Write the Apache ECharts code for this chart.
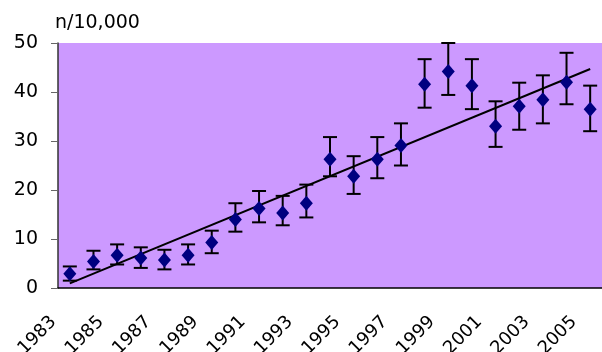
<!DOCTYPE html>
<html>
<head>
<meta charset="utf-8">
<script src="https://cdn.jsdelivr.net/npm/echarts@6/dist/echarts.min.js"></script>
<style>html,body{margin:0;padding:0;background:#fff;}#c{width:602px;height:352px;}</style>
</head>
<body>
<div id="c"></div>
<script>
const years = ['1983','1984','1985','1986','1987','1988','1989','1990','1991','1992','1993','1994','1995','1996','1997','1998','1999','2000','2001','2002','2003','2004','2005'];
const values = [2.9,5.4,6.7,6.1,5.7,6.7,9.3,14.0,16.2,15.3,17.3,26.3,22.8,26.3,29.1,41.6,44.2,41.3,33.0,37.1,38.4,42.0,36.5];
const upper  = [4.4,7.6,8.9,8.3,7.8,8.9,11.7,17.3,19.8,18.8,21.1,30.8,26.9,30.8,33.6,46.7,50.0,46.7,38.1,41.9,43.4,48.0,41.3];
const lower  = [1.5,3.8,4.8,4.1,3.8,4.8,7.1,11.5,13.4,12.8,14.4,22.8,19.2,22.4,25.0,36.8,39.4,36.5,28.8,32.3,33.6,37.5,32.0];
const trendStart = 0.95;
const trendEnd = 44.7;
const yTicks = [0,10,20,30,40,50];

const errData = years.map((y,i)=>[i, lower[i], upper[i]]);
const trendData = years.map((y,i)=> i===0 ? trendStart : (i===years.length-1 ? trendEnd : null));

const chart = echarts.init(document.getElementById('c'));
const font = 'DejaVu Sans';
chart.setOption({
  animation:false,
  title:{text:'n/10,000', left:50, top:9, textStyle:{fontFamily:font, fontSize:19, fontWeight:'normal', color:'#000'}},
  grid:{left:58, right:0, top:43, bottom:64, containLabel:false, outerBoundsMode:'none', show:true, backgroundColor:'#CC99FF', borderWidth:0},
  xAxis:{type:'category', data:years, boundaryGap:true,
    axisLine:{lineStyle:{color:'#000', width:1.5}},
    axisTick:{interval:0, length:6, lineStyle:{color:'#000'}},
    axisLabel:{interval:1, rotate:45, margin:15, formatter:function(v){return v+'\u00a0\u00a0\u00a0\u00a0';}, fontFamily:font, fontSize:18, color:'#000'}},
  yAxis:{type:'value', min:yTicks[0], max:yTicks[yTicks.length-1], interval:10,
    splitLine:{show:false},
    axisLine:{show:true, lineStyle:{color:'#333', width:1.5}},
    axisTick:{show:true, length:7, lineStyle:{color:'#666'}},
    axisLabel:{margin:20, fontFamily:font, fontSize:19, color:'#000'}},
  series:[
    {type:'custom', data:errData, z:2,
      renderItem:function(params, api){
        const x = api.value(0);
        const lo = api.coord([x, api.value(1)]);
        const hi = api.coord([x, api.value(2)]);
        const hw = 7;
        const st = {stroke:'#000', lineWidth:2};
        return {type:'group', children:[
          {type:'line', shape:{x1:lo[0], y1:lo[1], x2:hi[0], y2:hi[1]}, style:st},
          {type:'line', shape:{x1:lo[0]-hw, y1:lo[1], x2:lo[0]+hw, y2:lo[1]}, style:st},
          {type:'line', shape:{x1:hi[0]-hw, y1:hi[1], x2:hi[0]+hw, y2:hi[1]}, style:st}
        ]};
      }},
    {type:'line', data:trendData, connectNulls:true, showSymbol:false, symbol:'none', z:3,
      lineStyle:{color:'#000', width:2}},
    {type:'scatter', data:values, symbol:'diamond', symbolSize:[13,15], z:4,
      itemStyle:{color:'#000080', opacity:1}}
  ]
});
</script>
</body>
</html>
